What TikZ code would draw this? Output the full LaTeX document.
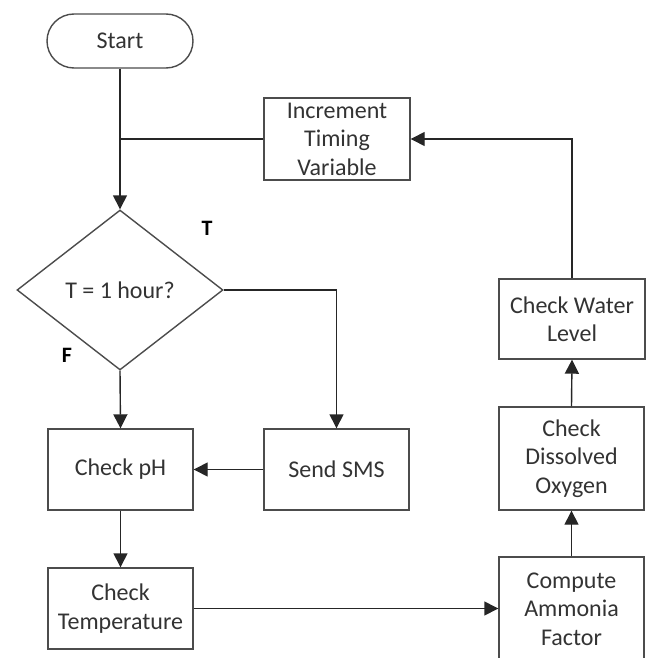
\documentclass[tikz,border=0pt]{standalone}
\usepackage{fontspec}
\setmainfont{Carlito}
\usetikzlibrary{shapes.geometric,arrows.meta}
\begin{document}
\begin{tikzpicture}[x=1pt,y=-1pt,
  box/.style={draw=black!70,line width=1.4pt,fill=white,inner sep=2pt,align=center,
    text=black!80,font=\fontsize{24}{28.5}\selectfont},
  conn/.style={line width=1.4pt,draw=black!85},
  arr/.style={conn,-{Triangle[length=14pt,width=14pt]}},
  lbl/.style={font=\fontsize{22}{24}\selectfont\bfseries,text=black}]
\useasboundingbox (0,0) rectangle (647,658);
\node[box,rounded corners=27pt,minimum width=146pt,minimum height=54pt] (start) at (120,41) {Start};
\node[box,minimum width=146pt,minimum height=82pt] (incr) at (337,139) {Increment\\Timing\\Variable};
\node[box,diamond,inner sep=0pt,minimum width=206pt,minimum height=160pt] (dec) at (120,290) {T = 1 hour?};
\node[box,minimum width=145pt,minimum height=81pt] (ph) at (120.5,469.5) {Check pH};
\node[box,minimum width=145pt,minimum height=81pt] (sms) at (336.5,469.5) {Send SMS};
\node[box,minimum width=145pt,minimum height=81pt] (temp) at (120.5,608.5) {Check\\Temperature};
\node[box,minimum width=145pt,minimum height=104pt] (comp) at (571.5,609) {Compute\\Ammonia\\Factor};
\node[box,minimum width=145pt,minimum height=103pt] (dox) at (571.5,458.5) {Check\\Dissolved\\Oxygen};
\node[box,minimum width=146pt,minimum height=80pt] (wl) at (572,319) {Check Water\\Level};
\node[lbl] (tl) at (207,228) {T};
\node[lbl] (fl) at (67,355) {F};
\coordinate (junc) at (incr.west -| start.south);
\draw[arr] (start.south) -- (dec.north);
\draw[conn] (incr.west) -- (junc);
\draw[arr] (dec.east) -| (sms.north);
\draw[arr] (dec.south) -- (ph.north);
\draw[arr] (sms.west) -- (ph.east);
\draw[arr] (ph.south) -- (temp.north);
\draw[arr] (temp.east) -- (temp.east -| comp.west);
\draw[arr] (comp.north) -- (dox.south);
\draw[arr] (dox.north) -- (wl.south);
\draw[arr] (wl.north) |- (incr.east);
\end{tikzpicture}
\end{document}
